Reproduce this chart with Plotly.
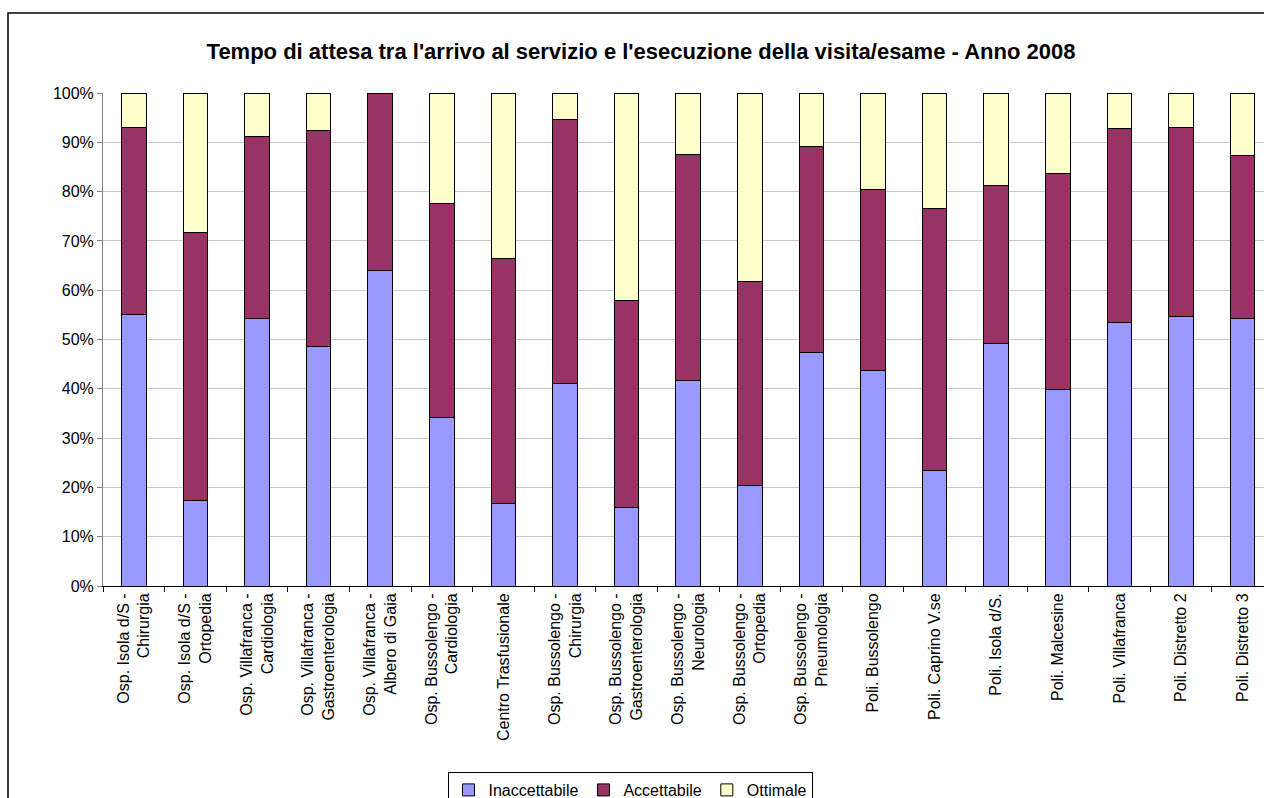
import plotly.graph_objects as go

categories = [
    "Osp. Isola d/S -<br>Chirurgia",
    "Osp. Isola d/S -<br>Ortopedia",
    "Osp. Villafranca -<br>Cardiologia",
    "Osp. Villafranca -<br>Gastroenterologia",
    "Osp. Villafranca -<br>Albero di Gaia",
    "Osp. Bussolengo -<br>Cardiologia",
    "Centro Trasfusionale",
    "Osp. Bussolengo -<br>Chirurgia",
    "Osp. Bussolengo -<br>Gastroenterologia",
    "Osp. Bussolengo -<br>Neurologia",
    "Osp. Bussolengo -<br>Ortopedia",
    "Osp. Bussolengo -<br>Pneumologia",
    "Poli. Bussolengo",
    "Poli. Caprino V.se",
    "Poli. Isola d/S.",
    "Poli. Malcesine",
    "Poli. Villafranca",
    "Poli. Distretto 2",
    "Poli. Distretto 3",
]

inaccettabile = [55.1, 17.4, 54.3, 48.6, 64.0, 34.1, 16.8, 41.0, 15.9, 41.6,
                 20.4, 47.4, 43.8, 23.5, 49.1, 39.8, 53.4, 54.6, 54.3]
accettabile = [37.9, 54.4, 36.9, 43.8, 36.0, 43.5, 49.6, 53.6, 42.1, 46.0,
               41.4, 41.7, 36.6, 53.0, 32.2, 43.9, 39.4, 38.4, 33.1]
ottimale = [7.0, 28.2, 8.8, 7.6, 0.0, 22.4, 33.6, 5.4, 42.0, 12.4,
            38.2, 10.9, 19.6, 23.5, 18.7, 16.3, 7.2, 7.0, 12.6]

series = [
    ("Inaccettabile", inaccettabile, "#9999FF"),
    ("Accettabile", accettabile, "#993366"),
    ("Ottimale", ottimale, "#FFFFCC"),
]

fig = go.Figure()
for name, vals, col in series:
    fig.add_trace(go.Bar(
        x=categories, y=vals, name=name,
        marker=dict(color=col, line=dict(color="black", width=1)),
        width=0.4,
    ))

W, H = 1264, 798
L, R, T, B = 103, 0, 93, 212
pw, ph = W - L - R, H - T - B
step = 61.6  # pixel width of one category in the reference
x_end = (pw / step) - 0.5

fig.update_layout(
    width=W, height=H,
    barmode="stack",
    margin=dict(l=L, r=R, t=T, b=B),
    paper_bgcolor="white", plot_bgcolor="white",
    font=dict(family="Liberation Sans, Arial, sans-serif", size=16, color="black"),
    title=dict(
        text="<b>Tempo di attesa tra l'arrivo al servizio e l'esecuzione della visita/esame - Anno 2008</b>",
        x=641 / W, xanchor="center", y=1 - 51 / H, yanchor="middle",
        font=dict(size=22),
    ),
    showlegend=True,
    legend=dict(
        orientation="h", x=630 / W, xanchor="center", xref="container",
        y=1 - 772 / H, yref="container", yanchor="top",
        bordercolor="black", borderwidth=1, font=dict(size=16),
        traceorder="normal",
    ),
)

fig.update_yaxes(
    range=[0, 100], dtick=10, ticksuffix="%",
    showgrid=True, gridcolor="#C8C8C8", gridwidth=1,
    showline=True, linecolor="#808080", linewidth=1,
    ticks="outside", ticklen=5, tickcolor="#808080",
    tickfont=dict(size=16), zeroline=False,
)
fig.update_xaxes(
    tickangle=-90, tickfont=dict(size=16),
    showline=True, linecolor="black", linewidth=1,
    ticks="outside", ticklen=5, tickson="boundaries", tickcolor="black",
    range=[-0.5, x_end],
)

# chart area border
fig.add_shape(
    type="rect", xref="paper", yref="paper",
    x0=(8 - L) / pw, x1=(1300 - L) / pw,
    y0=(T + ph - 820) / ph, y1=(T + ph - 13) / ph,
    line=dict(color="black", width=1.5), layer="below",
)

fig.write_html(
    "out.html",
    config={"displayModeBar": False},
    post_script="document.body.style.margin='0';document.body.style.overflow='hidden';",
)
